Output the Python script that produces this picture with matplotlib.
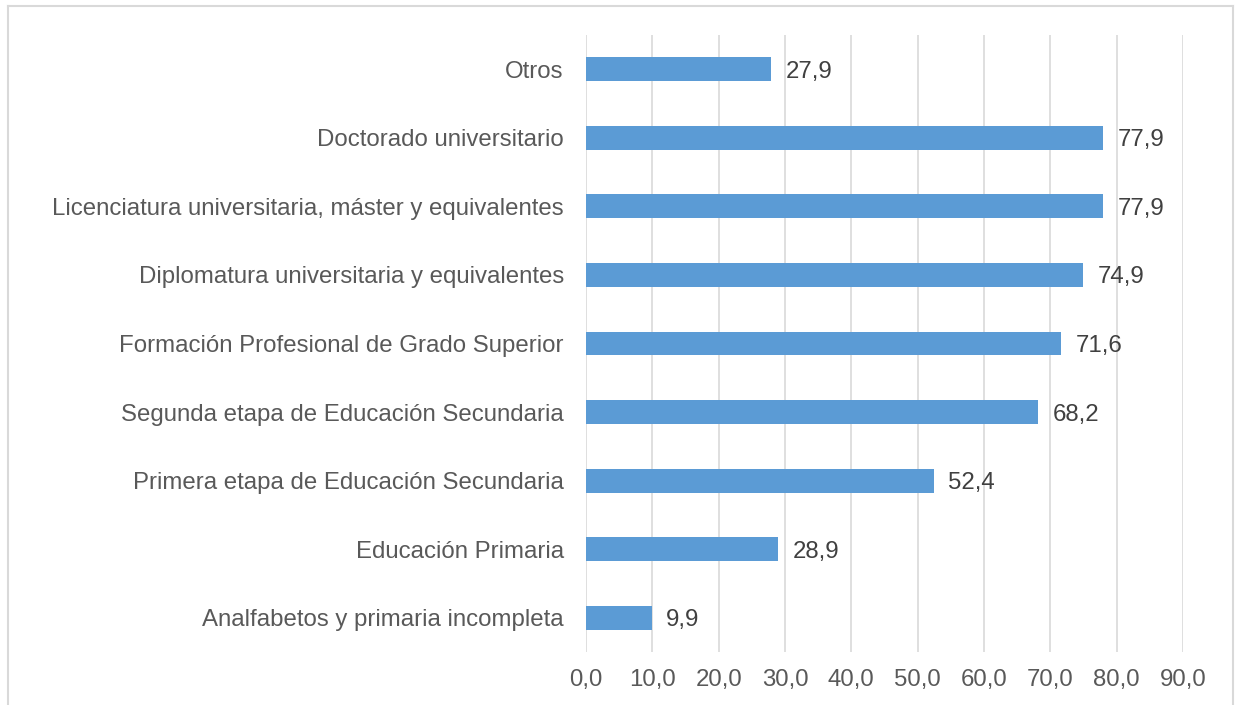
import matplotlib.pyplot as plt
from matplotlib.lines import Line2D

# datos
categorias = [
    "Analfabetos y primaria incompleta",
    "Educación Primaria",
    "Primera etapa de Educación Secundaria",
    "Segunda etapa de Educación Secundaria",
    "Formación Profesional de Grado Superior",
    "Diplomatura universitaria y equivalentes",
    "Licenciatura universitaria, máster y equivalentes",
    "Doctorado universitario",
    "Otros",
]
valores = [9.9, 28.9, 52.4, 68.2, 71.6, 74.9, 77.9, 77.9, 27.9]
ticks_x = [0, 10, 20, 30, 40, 50, 60, 70, 80, 90]

plt.rcParams['font.family'] = ['Liberation Sans', 'DejaVu Sans']

W, H = 1235, 705
fig = plt.figure(figsize=(W / 100, H / 100), dpi=100)
ax = fig.add_axes([586 / W, 1 - 652 / H, (1183 - 586) / W, (652 - 35) / H])

y = list(range(len(categorias)))
ax.barh(y, valores, height=0.35, color="#5B9BD5", zorder=3)

for yi, v in zip(y, valores):
    ax.text(v + 2.2, yi, f"{v:.1f}".replace(".", ","), va="center_baseline", ha="left",
            fontsize=17.3, color="#404040")

ax.set_xlim(0, 90)
ax.set_ylim(-0.5, len(categorias) - 0.5)
ax.set_xticks(ticks_x)
ax.set_xticklabels([f"{t:.1f}".replace(".", ",") for t in ticks_x])
ax.set_yticks(y)
ax.set_yticklabels(categorias)
ax.tick_params(axis="both", length=0, labelsize=17.3, labelcolor="#595959")
ax.tick_params(axis="x", pad=12)
ax.tick_params(axis="y", pad=16)
ax.grid(axis="x", color="#D9D9D9", linewidth=1.2, zorder=0)
for s in ax.spines.values():
    s.set_visible(False)

# marco gris
fc = "#D9D9D9"
fig.add_artist(Line2D([8 / W, 8 / W], [0, 1 - 6 / H], color=fc, lw=1.5))
fig.add_artist(Line2D([8 / W, 1233 / W], [1 - 6 / H, 1 - 6 / H], color=fc, lw=1.5))
fig.add_artist(Line2D([1233 / W, 1233 / W], [0, 1 - 6 / H], color=fc, lw=1.5))

fig.savefig("out.png", dpi=100)
